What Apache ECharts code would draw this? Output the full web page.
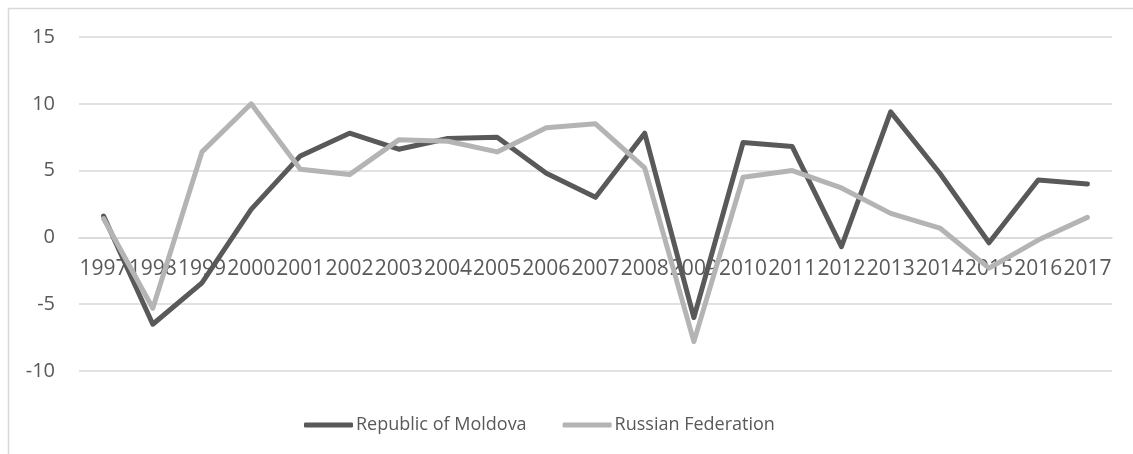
<!DOCTYPE html>
<html>
<head>
<meta charset="utf-8">
<script src="https://cdn.jsdelivr.net/npm/echarts@6/dist/echarts.min.js"></script>
<style>
  html, body { margin: 0; padding: 0; background: #fff; }
  #chart { width: 1133px; height: 454px; }
</style>
</head>
<body>
<div id="chart"></div>
<script>
// Annual growth, per cent
const years = ['1997','1998','1999','2000','2001','2002','2003','2004','2005','2006','2007',
               '2008','2009','2010','2011','2012','2013','2014','2015','2016','2017'];
const moldova = [1.6, -6.5, -3.4, 2.1, 6.1, 7.8, 6.6, 7.4, 7.5, 4.8, 3.0,
                 7.8, -6.0, 7.1, 6.8, -0.7, 9.4, 4.8, -0.4, 4.3, 4.0];
const russia  = [1.4, -5.3, 6.4, 10.0, 5.1, 4.7, 7.3, 7.2, 6.4, 8.2, 8.5,
                 5.2, -7.8, 4.5, 5.0, 3.7, 1.8, 0.7, -2.3, -0.2, 1.5];
const yTicks = { min: -10, max: 15, step: 5 };

const font = 'Open Sans, sans-serif';
const textColor = '#595959';

const W = 1133, H = 454;
const grid = { left: 79, right: 21, top: 37, bottom: 83 };
// the category axis sits on the zero line of the value axis
const plotH = H - grid.top - grid.bottom;
const zeroOffset = -plotH * (0 - yTicks.min) / (yTicks.max - yTicks.min);

const chart = echarts.init(document.getElementById('chart'), null, { renderer: 'canvas' });
chart.setOption({
  animation: false,
  backgroundColor: '#fff',
  textStyle: { fontFamily: font },
  graphic: [{
    type: 'rect',
    shape: { x: 8.5, y: 8.5, width: 1300, height: 600 },
    style: { fill: 'none', stroke: '#d9d9d9', lineWidth: 1.5 },
    silent: true
  }],
  grid: Object.assign({ containLabel: false }, grid),
  legend: {
    left: 299,
    top: 411,
    icon: 'roundRect',
    itemWidth: 49,
    itemHeight: 5,
    itemGap: 36,
    textStyle: { color: textColor, fontSize: 18, fontFamily: font, padding: [0, 0, 0, -2] },
    data: ['Republic of Moldova', 'Russian Federation']
  },
  xAxis: {
    type: 'category',
    data: years,
    boundaryGap: true,
    position: 'bottom',
    offset: zeroOffset,
    z: 0,
    axisLine: { show: true, onZero: false, lineStyle: { color: '#d9d9d9', width: 1.5 } },
    axisTick: { show: false },
    axisLabel: { interval: 0, color: textColor, fontSize: 21, fontFamily: font, margin: 21 },
    splitLine: { show: false }
  },
  yAxis: {
    type: 'value',
    min: yTicks.min,
    max: yTicks.max,
    interval: yTicks.step,
    axisLine: { show: false },
    axisTick: { show: false },
    axisLabel: { color: textColor, fontSize: 20, fontFamily: font, margin: 24 },
    splitLine: { lineStyle: { color: '#d9d9d9', width: 1.5 } }
  },
  series: [
    {
      name: 'Republic of Moldova',
      type: 'line',
      data: moldova,
      symbol: 'none',
      z: 3,
      itemStyle: { color: '#595959' },
      lineStyle: { color: '#595959', width: 5, cap: 'round', join: 'round' }
    },
    {
      name: 'Russian Federation',
      type: 'line',
      data: russia,
      symbol: 'none',
      z: 4,
      itemStyle: { color: '#b4b4b4' },
      lineStyle: { color: '#b4b4b4', width: 5, cap: 'round', join: 'round' }
    }
  ]
});
</script>
</body>
</html>
